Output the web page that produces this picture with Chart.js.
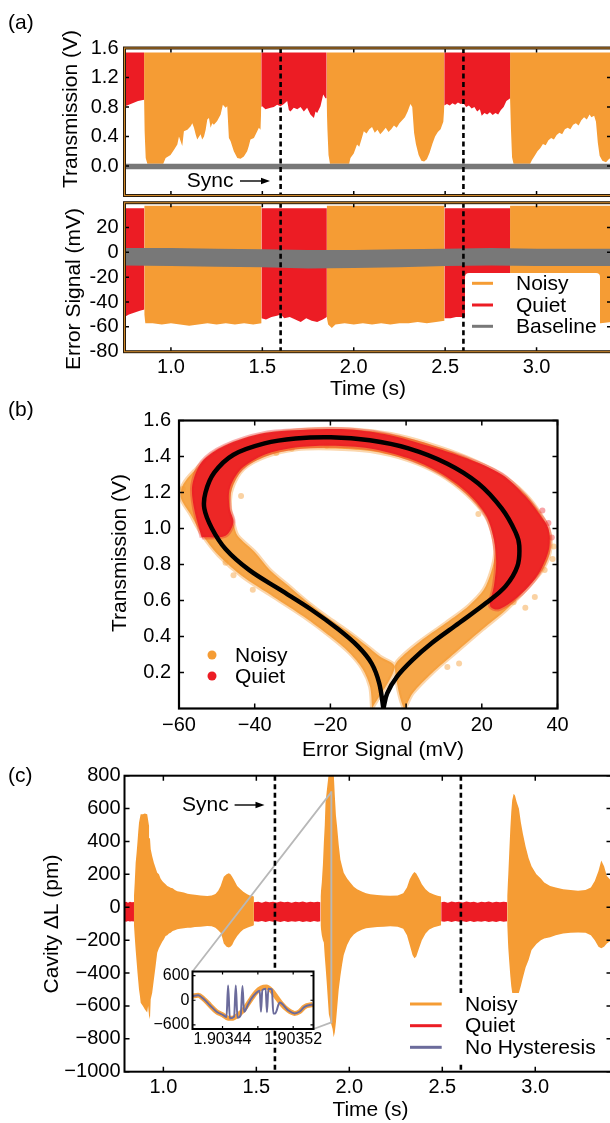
<!DOCTYPE html>
<html>
<head>
<meta charset="utf-8">
<script src="https://cdn.jsdelivr.net/npm/chart.js@4.4.1/dist/chart.umd.min.js"></script>
<style>
  html, body { margin: 0; padding: 0; background: #fff; overflow: hidden; width: 610px; height: 1123px; }
  canvas { position: absolute; left: 0; top: 0; width: 620px; height: 1123px; }
</style>
</head>
<body>
<canvas id="cTrans" width="620" height="1123"></canvas>
<canvas id="cErr" width="620" height="1123"></canvas>
<canvas id="cLoop" width="620" height="1123"></canvas>
<canvas id="cCav" width="620" height="1123"></canvas>
<canvas id="cInset" width="620" height="1123"></canvas>
<script>
// ---------- data ----------
const timeTicks = [1.0, 1.5, 2.0, 2.5, 3.0];
const timeTickLabels = ['1.0', '1.5', '2.0', '2.5', '3.0'];
const syncTimes = [1.6, 2.6];

// (a) transmission: lower edge of the oscillation, filled up to transTop
const transTicks = [0.0, 0.4, 0.8, 1.2, 1.6];
const transTickLabels = ['0.0', '0.4', '0.8', '1.2', '1.6'];
const transTop = 1.54;
const transQuiet = [
  [0.746, 0.81], [0.76, 0.82], [0.78, 0.84], [0.80, 0.86], [0.82, 0.88], [0.84, 0.89], [0.854, 0.90],
  [1.2, null],
  [1.494, 0.80], [1.499, 0.81], [1.517, 0.77], [1.545, 0.79], [1.563, 0.80], [1.581, 0.83], [1.599, 0.81],
  [1.618, 0.84], [1.636, 0.88], [1.645, 0.76], [1.654, 0.74], [1.672, 0.79], [1.691, 0.77], [1.709, 0.80],
  [1.727, 0.74], [1.745, 0.79], [1.763, 0.70], [1.782, 0.65], [1.791, 0.74], [1.80, 0.72], [1.818, 0.81],
  [1.833, 0.97], [1.845, 0.92], [1.852, 0.92],
  [2.2, null],
  [2.495, 0.82], [2.51, 0.84], [2.525, 0.82], [2.54, 0.85], [2.555, 0.83], [2.57, 0.86], [2.585, 0.84],
  [2.60, 0.85], [2.615, 0.80], [2.63, 0.82], [2.645, 0.78], [2.66, 0.80], [2.675, 0.74], [2.69, 0.77],
  [2.70, 0.68], [2.715, 0.72], [2.73, 0.70], [2.745, 0.73], [2.76, 0.69], [2.775, 0.72], [2.79, 0.70],
  [2.805, 0.76], [2.82, 0.80], [2.835, 0.88], [2.856, 0.92]
];
const transNoisy = [
  [0.853, 0.90], [0.856, 0.47], [0.862, 0.11], [0.871, 0.03], [0.958, 0.03], [0.971, 0.11], [0.998, 0.15],
  [1.017, 0.22], [1.035, 0.29], [1.044, 0.40], [1.062, 0.27], [1.071, 0.47], [1.09, 0.49], [1.108, 0.54],
  [1.117, 0.58], [1.126, 0.52], [1.135, 0.43], [1.144, 0.36], [1.162, 0.43], [1.171, 0.36], [1.181, 0.40],
  [1.19, 0.49], [1.199, 0.63], [1.208, 0.65], [1.217, 0.52], [1.226, 0.58], [1.235, 0.56], [1.253, 0.61],
  [1.272, 0.70], [1.284, 0.83], [1.299, 0.79], [1.308, 0.81], [1.317, 0.38], [1.326, 0.34], [1.344, 0.20],
  [1.363, 0.11], [1.381, 0.10], [1.399, 0.13], [1.417, 0.20], [1.426, 0.27], [1.435, 0.36], [1.454, 0.38],
  [1.472, 0.47], [1.481, 0.52], [1.49, 0.49], [1.495, 0.85],
  [1.7, null],
  [1.851, 0.92], [1.856, 0.50], [1.862, 0.15], [1.87, 0.03], [1.975, 0.03], [1.982, 0.11], [2.00, 0.17],
  [2.018, 0.29], [2.03, 0.26], [2.042, 0.36], [2.055, 0.47], [2.07, 0.44], [2.085, 0.50], [2.10, 0.53],
  [2.115, 0.45], [2.13, 0.49], [2.145, 0.43], [2.16, 0.47], [2.175, 0.52], [2.19, 0.46], [2.205, 0.50],
  [2.22, 0.55], [2.235, 0.52], [2.25, 0.58], [2.265, 0.62], [2.28, 0.66], [2.295, 0.74], [2.31, 0.84],
  [2.32, 0.80], [2.33, 0.45], [2.34, 0.30], [2.355, 0.15], [2.37, 0.07], [2.385, 0.06], [2.40, 0.09],
  [2.415, 0.18], [2.43, 0.30], [2.445, 0.40], [2.46, 0.46], [2.475, 0.50], [2.49, 0.60], [2.496, 0.82],
  [2.7, null],
  [2.855, 0.92], [2.86, 0.50], [2.866, 0.12], [2.874, 0.03], [2.965, 0.03], [2.975, 0.08], [2.99, 0.14],
  [3.005, 0.20], [3.02, 0.24], [3.035, 0.30], [3.05, 0.28], [3.065, 0.35], [3.08, 0.38], [3.095, 0.36],
  [3.11, 0.42], [3.125, 0.45], [3.14, 0.43], [3.155, 0.50], [3.17, 0.52], [3.185, 0.50], [3.20, 0.56],
  [3.215, 0.58], [3.23, 0.55], [3.245, 0.62], [3.26, 0.66], [3.275, 0.63], [3.29, 0.70], [3.30, 0.66],
  [3.315, 0.68], [3.325, 0.60], [3.335, 0.32], [3.345, 0.14], [3.36, 0.07], [3.38, 0.05], [3.395, 0.09],
  [3.41, 0.12]
];
const baseTime = [0.746, 1.0, 1.25, 1.5, 1.75, 2.0, 2.25, 2.5, 2.75, 3.0, 3.25, 3.41];
const transBaseHi = [0.03, 0.03, 0.03, 0.03, 0.03, 0.03, 0.03, 0.03, 0.03, 0.03, 0.03, 0.03];
const transBaseLo = [-0.045, -0.045, -0.045, -0.045, -0.045, -0.045, -0.045, -0.045, -0.045, -0.045, -0.045, -0.045];

// (a) error signal: lower edge, filled up to the top level
const errTicks = [-80, -60, -40, -20, 0, 20];
const errTickLabels = ['-80', '-60', '-40', '-20', '0', '20'];
const errNoisyTop = 37.5;
const errQuietTop = 35.5;
const errQuiet = [
  [0.746, -52], [0.77, -50], [0.79, -49], [0.81, -48], [0.83, -47], [0.855, -46],
  [1.2, null],
  [1.495, -53], [1.52, -54], [1.55, -52], [1.58, -51], [1.60, -50], [1.62, -53], [1.65, -52],
  [1.68, -54], [1.71, -56], [1.74, -53], [1.77, -55], [1.80, -56], [1.83, -54], [1.853, -52],
  [2.2, null],
  [2.496, -53], [2.53, -53], [2.56, -52], [2.60, -52], [2.63, -52], [2.66, -51], [2.70, -52],
  [2.73, -53], [2.76, -52], [2.80, -52], [2.83, -51], [2.856, -50]
];
const errNoisy = [
  [0.854, -50], [0.86, -57], [0.90, -57], [0.95, -58], [1.00, -57], [1.05, -58], [1.10, -59],
  [1.15, -58], [1.20, -57], [1.25, -58], [1.30, -57], [1.35, -58], [1.40, -57], [1.45, -58], [1.496, -57],
  [1.7, null],
  [1.852, -52], [1.86, -58], [1.88, -61], [1.90, -58], [1.95, -57], [2.00, -58], [2.05, -57],
  [2.10, -58], [2.15, -57], [2.20, -58], [2.25, -57], [2.30, -57], [2.35, -56], [2.40, -57],
  [2.45, -56], [2.497, -55],
  [2.7, null],
  [2.855, -53], [2.86, -56], [2.90, -56], [2.95, -57], [3.00, -56], [3.05, -57], [3.10, -56],
  [3.15, -57], [3.20, -56], [3.25, -57], [3.30, -56], [3.35, -57], [3.41, -56]
];
const errBaseHi = [3.5, 3.5, 3, 2.5, 2, 2, 2.5, 3, 3.5, 3, 3, 3];
const errBaseLo = [-10.5, -11, -11.5, -12, -13, -12.5, -12, -11, -10.5, -11, -11, -11];

// (b) hysteresis loop (mV, V)
const loopXTicks = [-60, -40, -20, 0, 20, 40];
const loopXTickLabels = ['\u221260', '\u221240', '\u221220', '0', '20', '40'];
const loopYTicks = [0.2, 0.4, 0.6, 0.8, 1.0, 1.2, 1.4, 1.6];
const loopYTickLabels = ['0.2', '0.4', '0.6', '0.8', '1.0', '1.2', '1.4', '1.6'];
const loopCurve = [
  [-6.0, 0.0], [-7.1, 0.14], [-9.1, 0.25], [-12.7, 0.345], [-17.9, 0.44], [-25.1, 0.55], [-33.3, 0.66],
  [-41.5, 0.77], [-47.7, 0.886], [-51.3, 1.0], [-53.3, 1.11], [-53.0, 1.2], [-50.7, 1.31], [-45.6, 1.41],
  [-37.4, 1.473], [-29.2, 1.5], [-19.9, 1.507], [-9.6, 1.49], [0.6, 1.445], [10.9, 1.36], [19.1, 1.25],
  [25.3, 1.11], [28.9, 0.98], [29.9, 0.905], [29.4, 0.79], [26.3, 0.68], [21.2, 0.587], [14.0, 0.475],
  [6.8, 0.364], [1.7, 0.27], [-2.4, 0.177], [-5.0, 0.084], [-6.0, 0.0]
];
const noisyBandOuter = [
  [-9, 0], [-9.5, 0.12], [-11.5, 0.22], [-15, 0.31], [-20, 0.40], [-27, 0.51], [-35, 0.62], [-43, 0.73],
  [-49.5, 0.85], [-54, 0.97], [-57, 1.08], [-59.5, 1.17], [-59, 1.24], [-56, 1.32], [-50, 1.43],
  [-39, 1.515], [-26, 1.55], [-14, 1.55], [-4, 1.525], [6, 1.47], [16, 1.395], [25, 1.30], [31.5, 1.19],
  [35.5, 1.08], [38, 0.97], [38, 0.87], [36, 0.77], [32, 0.67], [26.5, 0.55], [20.2, 0.44], [13, 0.31],
  [6.8, 0.196], [1.7, 0.084], [-0.5, 0]
];
const noisyBandInner = [
  [-3, 0.23], [-1.5, 0.28], [3.5, 0.37], [10.5, 0.475], [16.5, 0.57], [20.5, 0.66], [22.5, 0.76],
  [23.5, 0.86], [23, 0.96], [21, 1.07], [16, 1.19], [9, 1.30], [0.5, 1.38], [-9.5, 1.43], [-20, 1.445],
  [-29, 1.44], [-37, 1.40], [-43, 1.33], [-46, 1.22], [-46.5, 1.11], [-45.5, 1.02], [-44.5, 0.96],
  [-40, 0.87], [-36, 0.77], [-31, 0.68], [-26, 0.59], [-21, 0.51], [-15.5, 0.43], [-10.5, 0.35],
  [-7, 0.29], [-3, 0.23]
];
const quietBandOuter = [
  [-54, 0.95], [-56, 1.11], [-56.5, 1.24], [-54, 1.37], [-48, 1.46], [-37.5, 1.53], [-25, 1.55],
  [-15, 1.55], [-4.5, 1.52], [5.8, 1.46], [16, 1.39], [25.3, 1.30], [31.5, 1.18], [35.6, 1.07],
  [37.6, 1.0], [37.8, 0.89], [35.6, 0.77], [32.5, 0.68], [28.4, 0.60], [24.3, 0.55]
];
const quietBandInner = [
  [22.2, 0.57], [23.2, 0.68], [23.8, 0.81], [23.2, 0.94], [21.2, 1.07], [16.1, 1.2], [8.9, 1.31],
  [0.6, 1.39], [-9.6, 1.445], [-19.9, 1.46], [-29.2, 1.45], [-37.4, 1.41], [-43.6, 1.33], [-46.6, 1.22],
  [-46.6, 1.11], [-45.6, 1.035], [-47.7, 0.96], [-54, 0.95]
];
const noisyStray = [
  [38.7, 0.83], [36.6, 0.77], [31.5, 0.56], [28.4, 0.59], [19.1, 1.08], [-43.6, 1.18], [-34.3, 1.42],
  [-30.2, 1.445], [-47.7, 0.81], [-45.6, 0.74], [-40.5, 0.66], [14, 0.25], [10.9, 0.23], [-21, 1.46],
  [-59, 1.22], [34, 0.62], [39, 0.9]
];
const quietStray = [[37.6, 1.03], [38.5, 0.95], [22.2, 0.60], [36, 1.1]];

// (c) cavity length: [time, upper edge, lower edge]
const cavTicks = [-1000, -800, -600, -400, -200, 0, 200, 400, 600, 800];
const cavTickLabels = ['\u22121000', '\u2212800', '\u2212600', '\u2212400', '\u2212200', '0', '200', '400', '600', '800'];
const cavQuiet = [
  [0.791, 30, -85], [0.80, 34, -88], [0.81, 28, -84], [0.82, 33, -87], [0.83, 30, -85], [0.842, 32, -86],
  [1.2, null, null],
  [1.487, 30, -85], [1.51, 34, -88], [1.53, 28, -83], [1.55, 35, -90], [1.57, 30, -84], [1.59, 33, -88],
  [1.61, 29, -85], [1.63, 35, -89], [1.65, 30, -84], [1.67, 34, -90], [1.69, 28, -85], [1.71, 33, -88],
  [1.73, 30, -84], [1.75, 35, -89], [1.77, 29, -85], [1.79, 34, -90], [1.81, 30, -84], [1.83, 33, -88],
  [1.845, 30, -85],
  [2.2, null, null],
  [2.494, 30, -85], [2.51, 34, -88], [2.53, 28, -83], [2.55, 35, -90], [2.57, 30, -84], [2.59, 33, -88],
  [2.61, 29, -85], [2.63, 35, -89], [2.65, 30, -84], [2.67, 34, -90], [2.69, 28, -85], [2.71, 33, -88],
  [2.73, 30, -84], [2.75, 35, -89], [2.77, 29, -85], [2.79, 34, -90], [2.81, 30, -84], [2.83, 33, -88],
  [2.849, 30, -85]
];
const cavNoisy = [
  [0.842, 70, -110], [0.846, 150, -180], [0.851, 270, -260], [0.856, 330, -330], [0.861, 400, -400],
  [0.865, 460, -450], [0.869, 514, -500], [0.874, 545, -540], [0.878, 565, -580], [0.89, 565, -600],
  [0.90, 570, -620], [0.913, 565, -640], [0.918, 530, -600], [0.923, 494, -660], [0.928, 420, -680],
  [0.932, 352, -560], [0.94, 310, -520], [0.949, 271, -440], [0.958, 240, -360], [0.967, 210, -276],
  [0.976, 200, -250], [0.985, 175, -230], [0.994, 160, -210], [1.003, 149, -195], [1.012, 140, -175],
  [1.021, 130, -170], [1.03, 125, -160], [1.039, 119, -155], [1.05, 115, -145], [1.062, 105, -140],
  [1.075, 98, -134], [1.09, 95, -130], [1.11, 90, -128], [1.13, 82, -125], [1.147, 79, -124],
  [1.17, 76, -120], [1.20, 72, -118], [1.236, 69, -114], [1.26, 72, -116], [1.28, 80, -125],
  [1.295, 100, -140], [1.308, 130, -155], [1.317, 160, -185], [1.325, 185, -220], [1.34, 200, -240],
  [1.352, 207, -245], [1.361, 200, -240], [1.37, 185, -230], [1.38, 165, -205], [1.397, 130, -175],
  [1.415, 110, -150], [1.43, 95, -135], [1.451, 79, -124], [1.465, 72, -118], [1.478, 69, -114],
  [1.487, 65, -110],
  [1.7, null, null],
  [1.845, 65, -110], [1.852, 150, -170], [1.858, 260, -200], [1.863, 393, -215], [1.868, 500, -300],
  [1.872, 636, -357], [1.878, 700, -450], [1.884, 760, -550], [1.89, 820, -650], [1.90, 820, -700],
  [1.91, 820, -740], [1.916, 820, -790], [1.922, 680, -760], [1.928, 560, -700], [1.934, 494, -620],
  [1.943, 380, -500], [1.952, 291, -420], [1.961, 250, -350], [1.97, 210, -290], [1.988, 175, -230],
  [2.006, 149, -190], [2.024, 125, -165], [2.042, 109, -150], [2.07, 95, -135], [2.09, 85, -128],
  [2.113, 79, -124], [2.15, 75, -120], [2.185, 72, -118], [2.22, 70, -115], [2.26, 72, -118],
  [2.29, 85, -130], [2.31, 120, -170], [2.325, 170, -230], [2.34, 200, -290], [2.35, 215, -310],
  [2.36, 205, -300], [2.375, 175, -250], [2.39, 140, -200], [2.41, 110, -160], [2.43, 90, -135],
  [2.455, 78, -122], [2.475, 70, -116], [2.494, 65, -110],
  [2.7, null, null],
  [2.849, 70, -110], [2.855, 200, -250], [2.86, 330, -330], [2.866, 480, -420], [2.871, 580, -480],
  [2.876, 650, -520], [2.884, 690, -535], [2.891, 680, -540], [2.90, 640, -530], [2.912, 600, -520],
  [2.922, 520, -480], [2.933, 450, -430], [2.948, 370, -367], [2.964, 300, -320], [2.98, 250, -260],
  [3.006, 200, -224], [3.03, 175, -200], [3.048, 150, -190], [3.08, 130, -183], [3.11, 120, -170],
  [3.15, 110, -160], [3.19, 105, -155], [3.23, 100, -153], [3.27, 105, -155], [3.299, 120, -170],
  [3.32, 160, -200], [3.34, 220, -240], [3.355, 285, -250], [3.37, 250, -240], [3.385, 190, -220],
  [3.41, 160, -200]
];

// (c) inset: microseconds after insetBase, picometres
const insetBase = 1.9034;
const insetXMin = 1.903406, insetXMax = 1.903543;
const insetYMin = -700, insetYMax = 700;
const insetXTicks = [1.90344, 1.90348, 1.90352];
const insetXTickLabels = ['1.90344', '', '1.90352'];
const insetYTicks = [-600, 0, 600];
const insetYTickLabels = ['\u2212600', '0', '600'];
const insetNoisy = [
  [6, 104], [12.5, 120], [18.2, 40], [25.7, -120], [33.3, -280], [40.7, -360], [46.3, -440], [50.2, -440],
  [57.6, -360], [65.2, -200], [72.7, 40], [78.3, 200], [84, 296], [89.6, 320], [95.2, 240], [100.9, 80],
  [106.5, -80], [114, -240], [121.5, -320], [127.1, -280], [132.8, -160], [142.1, -104]
];
const insetNoHyst = [
  [6, 104], [12.5, 120], [18.2, 40], [25.7, -120], [33.3, -280], [40.7, -360], [44.5, -408], [46.3, 360],
  [48.3, -440], [53.1, -400], [55, 360], [56.9, -424], [60.6, -360], [62.6, 344], [64.4, -280],
  [68.9, -104], [72.7, 40], [78.3, 184], [82.1, 232], [83.5, -280], [85.1, 248], [88.8, 280],
  [90.3, -296], [91.9, 280], [95.9, 264], [97.5, -320], [99.7, -320], [104.6, -56], [114, -240],
  [121.5, -320], [127.1, -280], [132.8, -160], [142.1, -104]
];

// ---------- drawing ----------
const W = 620, H = 1123;
const FONT = '"Liberation Sans", Arial, Helvetica, sans-serif';
const ORANGE = '#f59c34', RED = '#ec1c24', GRAY = '#787878', BLUE = '#6b6b9b';
const TICK = 20, LEG = 21, TITLE = 21;
Chart.defaults.font.family = FONT;
Chart.defaults.color = '#000';

const pts = arr => arr.map(([x, y]) => ({x, y}));
const zip = (xs, ys) => xs.map((x, i) => ({x, y: ys[i]}));
const col = (arr, k) => arr.map(r => ({x: r[0], y: r[k]}));

function axis(min, max, vals, labels, opts) {
  return {
    type: 'linear', min, max,
    grid: {display: false, drawTicks: false},
    border: {display: false},
    afterBuildTicks: s => { s.ticks = vals.map(v => ({value: v})); },
    afterFit: s => { if (opts.width !== undefined) s.width = opts.width; else s.height = opts.height; },
    ticks: {
      display: opts.show !== false, autoSkip: false, maxRotation: 0, minRotation: 0,
      padding: opts.pad || 0, font: {size: opts.size || TICK},
      callback: v => { const i = vals.indexOf(v); return i < 0 ? '' : labels[i]; }
    }
  };
}

function makeDeco(cfg) {
  return {
    id: 'deco',
    beforeDatasetsDraw(chart) {
      if (!cfg.bg) return;
      const a = chart.chartArea, ctx = chart.ctx;
      ctx.save();
      ctx.fillStyle = cfg.bg;
      ctx.fillRect(a.left, a.top, a.right - a.left, a.bottom - a.top);
      ctx.restore();
    },
    afterDatasetsDraw(chart) {
      const {ctx, chartArea: a, scales: {x, y}} = chart;
      ctx.save();
      if (cfg.mark) {
        const m = cfg.mark;
        const x1 = x.getPixelForValue(m.x0), x2 = x.getPixelForValue(m.x1);
        const yT = y.getPixelForValue(m.y1), yB = y.getPixelForValue(m.y0);
        ctx.strokeStyle = '#b8b8b8';
        ctx.lineWidth = 1.8;
        ctx.strokeRect(x1, yT, x2 - x1, yB - yT);
        ctx.beginPath();
        ctx.moveTo(m.box.left, m.box.top); ctx.lineTo(x1, yT);
        ctx.moveTo(m.box.right, m.box.bottom); ctx.lineTo(x2, yB);
        ctx.stroke();
      }
      (cfg.sync || []).forEach(t => {
        const p = x.getPixelForValue(t);
        ctx.strokeStyle = '#000';
        ctx.lineWidth = 2.6;
        ctx.setLineDash([5, 3.5]);
        ctx.beginPath(); ctx.moveTo(p, a.top); ctx.lineTo(p, a.bottom); ctx.stroke();
      });
      ctx.setLineDash([]);
      const tl = cfg.tickLen;
      ctx.strokeStyle = '#000';
      ctx.lineWidth = cfg.tickWidth || 1.5;
      ctx.beginPath();
      x.ticks.forEach(t => {
        const p = x.getPixelForValue(t.value);
        ctx.moveTo(p, a.bottom); ctx.lineTo(p, a.bottom - tl);
        ctx.moveTo(p, a.top); ctx.lineTo(p, a.top + tl);
      });
      y.ticks.forEach(t => {
        const p = y.getPixelForValue(t.value);
        ctx.moveTo(a.left, p); ctx.lineTo(a.left + tl, p);
        ctx.moveTo(a.right, p); ctx.lineTo(a.right - tl, p);
      });
      ctx.stroke();
      cfg.frame.forEach(([c, w]) => {
        ctx.strokeStyle = c; ctx.lineWidth = w;
        ctx.strokeRect(a.left, a.top, a.right - a.left, a.bottom - a.top);
      });
      if (cfg.legend) {
        const L = cfg.legend;
        if (L.box) {
          ctx.fillStyle = '#fff';
          ctx.beginPath();
          ctx.roundRect(L.box[0], L.box[1], L.box[2], L.box[3], 4);
          ctx.fill();
        }
        ctx.font = LEG + 'px ' + FONT;
        ctx.textAlign = 'left';
        ctx.textBaseline = 'middle';
        L.items.forEach(it => {
          if (it.dot) {
            ctx.fillStyle = it.color;
            ctx.beginPath(); ctx.arc(L.mark[0], it.y, 4.5, 0, Math.PI * 2); ctx.fill();
          } else {
            ctx.strokeStyle = it.color; ctx.lineWidth = 3;
            ctx.beginPath(); ctx.moveTo(L.mark[0], it.y); ctx.lineTo(L.mark[1], it.y); ctx.stroke();
          }
          ctx.fillStyle = '#000';
          ctx.fillText(it.label, L.textX, it.y + 1);
        });
      }
      (cfg.texts || []).forEach(tx => {
        ctx.save();
        ctx.font = tx.size + 'px ' + FONT;
        ctx.fillStyle = '#000';
        ctx.textAlign = tx.align || 'center';
        ctx.textBaseline = 'middle';
        ctx.translate(tx.x, tx.y);
        if (tx.rot) ctx.rotate(tx.rot * Math.PI / 180);
        ctx.fillText(tx.t, 0, 0);
        ctx.restore();
      });
      (cfg.arrows || []).forEach(ar => {
        ctx.strokeStyle = '#000'; ctx.fillStyle = '#000'; ctx.lineWidth = 1.4;
        ctx.beginPath(); ctx.moveTo(ar.x1, ar.y); ctx.lineTo(ar.x2 - 6, ar.y); ctx.stroke();
        ctx.beginPath(); ctx.moveTo(ar.x2, ar.y); ctx.lineTo(ar.x2 - 9, ar.y - 3.2); ctx.lineTo(ar.x2 - 9, ar.y + 3.2);
        ctx.closePath(); ctx.fill();
      });
      ctx.restore();
    }
  };
}

function makeChart(id, area, xh, scales, datasets, deco) {
  // Chart.js paints lower "order" on top; give later datasets lower order so they land on top
  datasets.forEach((d, i) => { d.order = datasets.length - i; });
  return new Chart(document.getElementById(id), {
    type: 'scatter',
    data: {datasets},
    options: {
      responsive: false, animation: false, devicePixelRatio: 1, events: [],
      layout: {padding: {left: 0, top: area.top, right: W - area.right, bottom: H - area.bottom - xh}},
      plugins: {legend: {display: false}, tooltip: {enabled: false}},
      elements: {point: {radius: 0}, line: {tension: 0}},
      scales
    },
    plugins: [makeDeco(deco)]
  });
}

const band = (data, color, fill) => ({data, showLine: true, borderWidth: 0, backgroundColor: color, fill});
const edge = data => ({data, showLine: true, borderWidth: 0, fill: false});
const aFrame = [['#2a1c0c', 3], ['#d08a2c', 1]];

// (a) transmission
const areaT = {left: 124.5, top: 48, right: 611.5, bottom: 195.5};
makeChart('cTrans', areaT, 0, {
  x: axis(0.746, 3.41, timeTicks, timeTickLabels, {height: 0, show: false}),
  y: axis(-0.4, 1.6, transTicks, transTickLabels, {width: areaT.left, pad: 6})
}, [
  band(pts(transNoisy), ORANGE, {value: transTop}),
  band(pts(transQuiet), RED, {value: transTop}),
  edge(zip(baseTime, transBaseHi)),
  band(zip(baseTime, transBaseLo), GRAY, '-1')
], {
  tickLen: 4.5, frame: aFrame, sync: syncTimes,
  texts: [
    {t: '(a)', x: 8, y: 23, size: TITLE, align: 'left'},
    {t: 'Transmission (V)', x: 71.7, y: 109, size: TITLE, rot: -90},
    {t: 'Sync', x: 186.7, y: 181, size: LEG, align: 'left'}
  ],
  arrows: [{x1: 240, x2: 270, y: 181}]
});

// (a) error signal
const areaE = {left: 124.5, top: 202.7, right: 611.5, bottom: 351.7};
makeChart('cErr', areaE, 40, {
  x: axis(0.746, 3.41, timeTicks, timeTickLabels, {height: 40, pad: 4}),
  y: axis(-80, 40, errTicks, errTickLabels, {width: areaE.left, pad: 6})
}, [
  band(pts(errNoisy), ORANGE, {value: errNoisyTop}),
  band(pts(errQuiet), RED, {value: errQuietTop}),
  edge(zip(baseTime, errBaseHi)),
  band(zip(baseTime, errBaseLo), GRAY, '-1')
], {
  tickLen: 4.5, frame: aFrame, sync: syncTimes,
  legend: {
    box: [465, 273, 135, 64], mark: [472, 493], textX: 516,
    items: [{label: 'Noisy', color: ORANGE, y: 283.3}, {label: 'Quiet', color: RED, y: 305}, {label: 'Baseline', color: GRAY, y: 326.3}]
  },
  texts: [
    {t: 'Error Signal (mV)', x: 74, y: 289, size: TITLE, rot: -90},
    {t: 'Time (s)', x: 368, y: 389, size: TITLE}
  ]
});

// (b) loop
const areaB = {left: 179, top: 420.5, right: 557.5, bottom: 708.5};
const ring = noisyBandOuter.concat(noisyBandInner, [noisyBandOuter[0]]);
const quietRing = quietBandOuter.concat(quietBandInner);
makeChart('cLoop', areaB, 40, {
  x: axis(-60, 40, loopXTicks, loopXTickLabels, {height: 40, pad: 5}),
  y: axis(0, 1.6, loopYTicks, loopYTickLabels, {width: areaB.left, pad: 8})
}, [
  {data: pts(ring), showLine: true, tension: 0.3, fill: 'shape', backgroundColor: 'rgba(245,156,52,0.9)', borderColor: 'rgba(245,156,52,0.4)', borderWidth: 4},
  {data: pts(noisyStray), showLine: false, pointRadius: 3, pointBackgroundColor: 'rgba(245,156,52,0.45)', pointBorderWidth: 0, fill: false},
  {data: pts(quietRing), showLine: true, tension: 0.3, fill: 'shape', backgroundColor: 'rgba(236,28,36,0.92)', borderColor: 'rgba(236,28,36,0.35)', borderWidth: 4},
  {data: pts(quietStray), showLine: false, pointRadius: 3, pointBackgroundColor: 'rgba(236,28,36,0.4)', pointBorderWidth: 0, fill: false},
  {data: pts(loopCurve), showLine: true, tension: 0.35, fill: false, borderColor: '#000', borderWidth: 4.5}
], {
  tickLen: 5, frame: [['#000', 2.2]],
  legend: {mark: [212], textX: 235, items: [{label: 'Noisy', color: ORANGE, y: 655, dot: true}, {label: 'Quiet', color: RED, y: 676, dot: true}]},
  texts: [
    {t: '(b)', x: 8, y: 410, size: TITLE, align: 'left'},
    {t: 'Transmission (V)', x: 120.6, y: 553, size: TITLE, rot: -90},
    {t: 'Error Signal (mV)', x: 383, y: 750, size: TITLE}
  ]
});

// (c) cavity length with inset
const areaC = {left: 124.5, top: 775.7, right: 611.5, bottom: 1071.7};
const areaI = {left: 192.5, top: 971.5, right: 313.5, bottom: 1029};
makeChart('cCav', areaC, 40, {
  x: axis(0.791, 3.41, timeTicks, timeTickLabels, {height: 40, pad: 4}),
  y: axis(-1000, 800, cavTicks, cavTickLabels, {width: areaC.left, pad: 4})
}, [
  edge(col(cavNoisy, 1)),
  band(col(cavNoisy, 2), ORANGE, '-1'),
  edge(col(cavQuiet, 1)),
  band(col(cavQuiet, 2), RED, '-1')
], {
  tickLen: 5, frame: [['#000', 2]], sync: syncTimes,
  mark: {x0: insetXMin, x1: insetXMax, y0: insetYMin, y1: insetYMax, box: areaI},
  legend: {
    box: [405, 993, 198, 71], mark: [410, 441.7], textX: 465,
    items: [{label: 'Noisy', color: ORANGE, y: 1004}, {label: 'Quiet', color: RED, y: 1025.7}, {label: 'No Hysteresis', color: BLUE, y: 1047.3}]
  },
  texts: [
    {t: '(c)', x: 8, y: 776, size: TITLE, align: 'left'},
    {t: 'Cavity \u0394L (pm)', x: 52.5, y: 924, size: TITLE, rot: -90},
    {t: 'Time (s)', x: 370.5, y: 1110, size: TITLE},
    {t: 'Sync', x: 182, y: 805, size: LEG, align: 'left'}
  ],
  arrows: [{x1: 234.6, x2: 264.5, y: 805}]
});

const usToT = arr => arr.map(([u, v]) => ({x: insetBase + u * 1e-6, y: v}));
makeChart('cInset', areaI, 30, {
  x: axis(insetXMin, insetXMax, insetXTicks, insetXTickLabels, {height: 30, pad: 1, size: 16}),
  y: axis(insetYMin, insetYMax, insetYTicks, insetYTickLabels, {width: areaI.left, pad: 3, size: 16})
}, [
  {data: usToT(insetNoisy), showLine: true, cubicInterpolationMode: 'monotone', fill: false, borderColor: 'rgba(245,156,52,0.95)', borderWidth: 5},
  {data: usToT(insetNoHyst), showLine: true, cubicInterpolationMode: 'monotone', fill: false, borderColor: BLUE, borderWidth: 2}
], {
  bg: '#fff', tickLen: 3, tickWidth: 1.2, frame: [['#000', 2]]
});
</script>
</body>
</html>
